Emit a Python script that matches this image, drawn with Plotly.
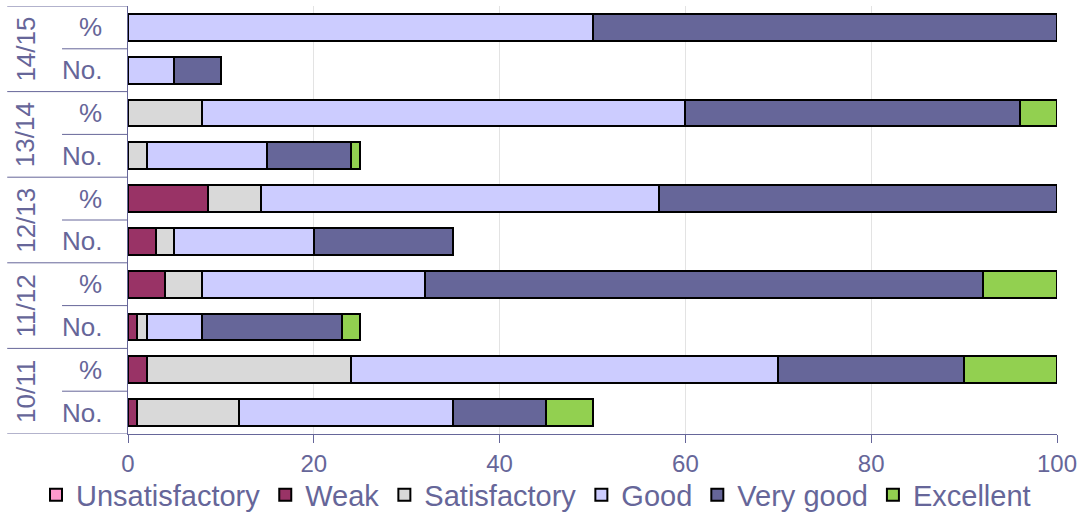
import plotly.graph_objects as go

years = ["10/11", "11/12", "12/13", "13/14", "14/15"]
kinds = ["No.", "%"]
# rows bottom -> top
rows = [f"{y} {k}" for y in years for k in kinds]

series_names = ["Unsatisfactory", "Weak", "Satisfactory", "Good", "Very good", "Excellent"]
colors = ["#ff99cc", "#993366", "#d9d9d9", "#ccccff", "#666699", "#92d050"]

# values per row (bottom -> top): 10/11 No., 10/11 %, 11/12 No., 11/12 %, 12/13 No., 12/13 %, 13/14 No., 13/14 %, 14/15 No., 14/15 %
unsatisfactory = [0, 0, 0, 0, 0, 0, 0, 0, 0, 0]
weak = [1, 2, 1, 4, 3, 8.57, 0, 0, 0, 0]
satisfactory = [11, 22, 1, 4, 2, 5.71, 2, 8, 0, 0]
good = [23, 46, 6, 24, 15, 42.86, 13, 52, 5, 50]
very_good = [10, 20, 15, 60, 15, 42.86, 9, 36, 5, 50]
excellent = [5, 10, 2, 8, 0, 0, 1, 4, 0, 0]

values = [unsatisfactory, weak, satisfactory, good, very_good, excellent]
x_ticks = [0, 20, 40, 60, 80, 100]

TXT = "#666699"
FONT = "Liberation Sans, Arial, sans-serif"

fig = go.Figure()
for name, col, vals in zip(series_names, colors, values):
    fig.add_trace(go.Bar(
        y=rows, x=vals, name=name, orientation="h",
        marker=dict(color=col, line=dict(color="#000000", width=2)),
    ))

shapes = []
# group separators
for b in [-0.5, 1.5, 3.5, 5.5, 7.5, 9.5]:
    shapes.append(dict(type="line", xref="paper", yref="y", x0=-0.130, x1=0, y0=b, y1=b,
                       line=dict(color=TXT, width=1)))
for b in [0.5, 2.5, 4.5, 6.5, 8.5]:
    shapes.append(dict(type="line", xref="paper", yref="y", x0=-0.071, x1=0, y0=b, y1=b,
                       line=dict(color=TXT, width=1)))

annotations = []
for i, r in enumerate(rows):
    k = kinds[i % 2]
    annotations.append(dict(text=k, xref="paper", yref="y", x=-0.026, y=i, xanchor="right",
                            yanchor="middle", showarrow=False, font=dict(size=26, color=TXT, family=FONT)))
for j, yr in enumerate(years):
    annotations.append(dict(text=yr, xref="paper", yref="y", x=-0.11, y=2 * j + 0.5, xanchor="center",
                            yanchor="middle", textangle=-90, showarrow=False,
                            font=dict(size=26, color=TXT, family=FONT)))

fig.update_layout(
    width=1084, height=514,
    barmode="stack", bargap=0.37,
    margin=dict(l=128, r=27, t=6, b=80, autoexpand=False),
    paper_bgcolor="white", plot_bgcolor="white",
    font=dict(family=FONT, color=TXT, size=24),
    showlegend=True,
    legend=dict(orientation="h", xref="paper", yref="paper", x=-0.099, y=-0.1425,
                xanchor="left", yanchor="middle", font=dict(size=29, color=TXT, family=FONT),
                traceorder="normal", itemwidth=30, tracegroupgap=0, bgcolor="rgba(0,0,0,0)"),
    xaxis=dict(range=[0, 100], tickvals=x_ticks, ticks="outside", ticklen=8, tickcolor=TXT,
               showline=True, linecolor=TXT, linewidth=1, showgrid=True, gridcolor="#e3e3e3",
               zeroline=False, tickfont=dict(size=24, color=TXT), automargin=False),
    yaxis=dict(type="category", categoryorder="array", categoryarray=rows, showticklabels=False,
               ticks="", showline=True, linecolor=TXT, linewidth=1, showgrid=False, zeroline=False,
               range=[-0.5, 9.5], automargin=False),
    shapes=shapes, annotations=annotations,
)

fig.write_html("out.html", config={"displayModeBar": False},
               post_script="document.body.style.margin='0px';")
